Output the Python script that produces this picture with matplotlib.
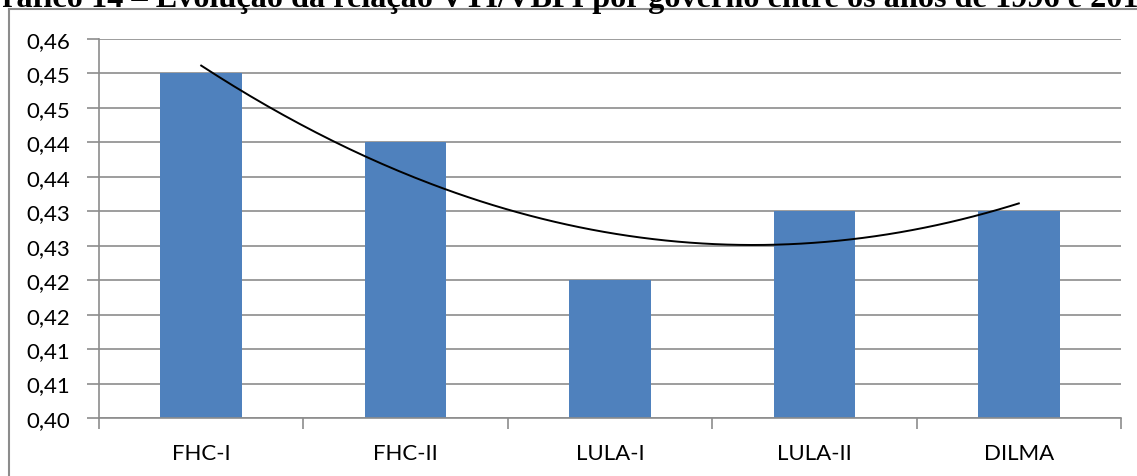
import numpy as np
import matplotlib.pyplot as plt
from matplotlib.lines import Line2D

# dados por governo
governos = ["FHC-I", "FHC-II", "LULA-I", "LULA-II", "DILMA"]
vti_vbpi = [0.450, 0.440, 0.420, 0.430, 0.430]

y_ticks = [0.400, 0.405, 0.410, 0.415, 0.420, 0.425, 0.430, 0.435, 0.440, 0.445, 0.450, 0.455]
y_labels = ["0,40", "0,41", "0,41", "0,42", "0,42", "0,43", "0,43",
            "0,44", "0,44", "0,45", "0,45", "0,46"]

titulo = "Gráfico 14 – Evolução da relação VTI/VBPI por governo entre os anos de 1996 e 2014"

cinza = "#8c8c8c"
azul = "#4f81bd"

fig = plt.figure(figsize=(11.37, 4.77), dpi=100)
ax = fig.add_axes([99 / 1137, 58 / 477, (1121 - 99) / 1137, (419 - 40) / 477])

x = np.arange(len(governos))
ax.bar(x, vti_vbpi, width=0.4, color=azul, zorder=2)

# linha de tendência polinomial de ordem 2
coef = np.polyfit(x, vti_vbpi, 2)
xs = np.linspace(x[0], x[-1], 200)
ax.plot(xs, np.polyval(coef, xs), color="black", lw=1.4, zorder=3)

ax.set_xlim(-0.5, len(governos) - 0.5)
ax.set_ylim(y_ticks[0], y_ticks[-1])
ax.set_yticks(y_ticks)
ax.set_yticklabels(y_labels, fontsize=16, family="Lato")
ax.yaxis.grid(True, color=cinza, lw=1.2, zorder=0)
ax.set_axisbelow(True)

ax.set_xticks(x)
ax.set_xticklabels(governos, fontsize=16, family="Lato")
ax.set_xticks(np.arange(-0.5, len(governos)), minor=True)
ax.tick_params(axis="x", which="major", length=0, pad=18)
ax.tick_params(axis="x", which="minor", length=8, color=cinza, width=1.2)
ax.tick_params(axis="y", length=9, color=cinza, width=1.2, pad=12)

for lado in ["top", "right"]:
    ax.spines[lado].set_visible(False)
for lado in ["left", "bottom"]:
    ax.spines[lado].set_color(cinza)
    ax.spines[lado].set_linewidth(1.2)

# moldura do gráfico
fig.add_artist(Line2D([9 / 1137, 9 / 1137], [0, 1 - 10 / 477], transform=fig.transFigure,
                      color=cinza, lw=1.5))
fig.add_artist(Line2D([9 / 1137, 1], [1 - 10 / 477, 1 - 10 / 477], transform=fig.transFigure,
                      color=cinza, lw=1.5))

# título da figura (cortado na borda superior)
fig.text(566 / 1137, 1 - 7 / 477, titulo, ha="center", va="baseline", fontsize=23.2,
         fontweight="bold", family="Liberation Serif")

fig.savefig("out.png", dpi=100)
